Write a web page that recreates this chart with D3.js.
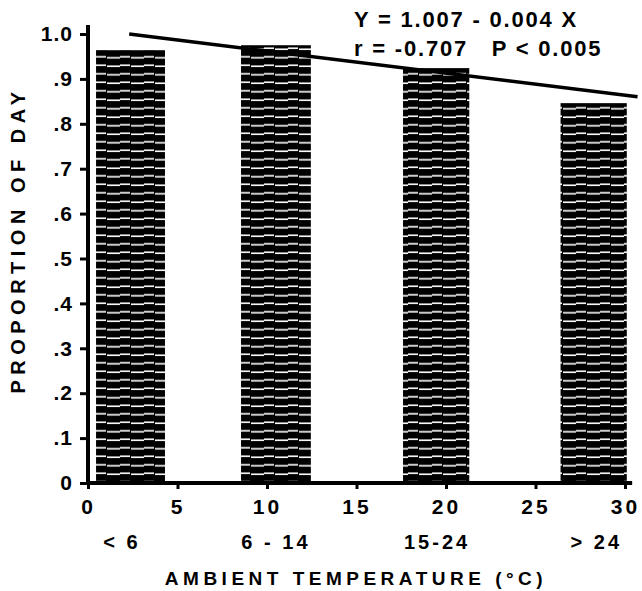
<!DOCTYPE html>
<html><head><meta charset="utf-8">
<script src="https://cdn.jsdelivr.net/npm/d3@7"></script>
<style>body{margin:0;background:#fff}svg{display:block}text{font-family:"Liberation Sans",Arial,sans-serif;font-weight:bold;fill:#000}</style>
</head><body><svg id="c" width="642" height="591"></svg>
<script>
const categories = ["< 6", "6 - 14", "15-24", "> 24"];
const barStart = [0.45, 8.55, 17.6, 26.4];
const barEnd = [4.3, 12.45, 21.3, 30.1];
const values = [0.964, 0.975, 0.924, 0.846];
const categoryCenters = [1.9, 10.5, 19.5, 28.4];
const xTicks = [0, 5, 10, 15, 20, 25, 30];
const yTicks = [0, 0.1, 0.2, 0.3, 0.4, 0.5, 0.6, 0.7, 0.8, 0.9, 1.0];
const yTickLabels = ["0", ".1", ".2", ".3", ".4", ".5", ".6", ".7", ".8", ".9", "1.0"];
const lineX = [2.3, 30.7];
const lineY = [1.0, 0.86];
const equation = ["Y = 1.007 - 0.004 X", "r = -0.707   P < 0.005"];

const svg = d3.select("#c");
const x = d3.scaleLinear().domain([0, 30]).range([88, 625]);
const y = d3.scaleLinear().domain([0, 1]).range([483, 34]);

const defs = svg.append("defs");
const pat = defs.append("pattern").attr("id", "hatch").attr("patternUnits", "userSpaceOnUse")
  .attr("width", 24).attr("height", 8.5);
pat.append("rect").attr("width", 24).attr("height", 8.5).attr("fill", "#000");
pat.append("rect").attr("x", 0).attr("y", 5).attr("width", 10).attr("height", 1.6).attr("fill", "#fff");
pat.append("rect").attr("x", 11).attr("y", 6).attr("width", 13).attr("height", 1.6).attr("fill", "#fff");

svg.append("g").selectAll("rect").data(values).join("rect")
  .attr("x", (d, i) => x(barStart[i]))
  .attr("width", (d, i) => x(barEnd[i]) - x(barStart[i]))
  .attr("y", d => y(d))
  .attr("height", d => y(0) - y(d))
  .attr("fill", "url(#hatch)");

// axes
const yAxis = d3.axisLeft(y).tickValues(yTicks).tickSize(8).tickPadding(7)
  .tickFormat((d, i) => yTickLabels[i]);
const gy = svg.append("g").attr("transform", `translate(${x(0)},0)`).call(yAxis);
gy.select(".domain").remove();
gy.selectAll("line").attr("stroke", "#000").attr("stroke-width", 3);
gy.selectAll("text").attr("font-size", 21).attr("font-family", "Liberation Sans, Arial, sans-serif").attr("font-weight", "bold").attr("letter-spacing", 1);

const xAxis = d3.axisBottom(x).tickValues(xTicks).tickSize(6).tickPadding(10);
const gx = svg.append("g").attr("transform", `translate(0,${y(0)})`).call(xAxis);
gx.select(".domain").remove();
gx.selectAll("line").attr("stroke", "#000").attr("stroke-width", 3);
gx.selectAll("text").attr("font-size", 21).attr("font-family", "Liberation Sans, Arial, sans-serif").attr("font-weight", "bold").attr("letter-spacing", 3);

svg.append("line").attr("x1", x(0)).attr("x2", x(0)).attr("y1", y(1.02)).attr("y2", y(0) + 2)
  .attr("stroke", "#000").attr("stroke-width", 4);
svg.append("line").attr("x1", x(0) - 2).attr("x2", x(30.4)).attr("y1", y(0)).attr("y2", y(0))
  .attr("stroke", "#000").attr("stroke-width", 4);

// regression line
svg.append("line").attr("x1", x(lineX[0])).attr("y1", y(lineY[0]))
  .attr("x2", x(lineX[1])).attr("y2", y(lineY[1]))
  .attr("stroke", "#000").attr("stroke-width", 3.5);

// category labels
svg.append("g").selectAll("text").data(categories).join("text")
  .attr("x", (d, i) => x(categoryCenters[i]))
  .attr("y", 549).attr("text-anchor", "middle").attr("font-size", 20).attr("letter-spacing", 3)
  .style("white-space", "pre").text(d => d);

// axis titles
svg.append("text").attr("x", 356).attr("y", 585).attr("text-anchor", "middle")
  .attr("font-size", 19).attr("letter-spacing", 4.5).text("AMBIENT TEMPERATURE (°C)");
svg.append("text").attr("transform", "translate(25,240) rotate(-90)").attr("text-anchor", "middle")
  .attr("font-size", 20).attr("letter-spacing", 5.5).text("PROPORTION OF DAY");

// equation
svg.append("g").selectAll("text").data(equation).join("text")
  .attr("x", 354).attr("y", (d, i) => 27 + i * 29)
  .attr("font-size", 22).attr("letter-spacing", 1.8)
  .style("white-space", "pre").text(d => d);
</script></body></html>
